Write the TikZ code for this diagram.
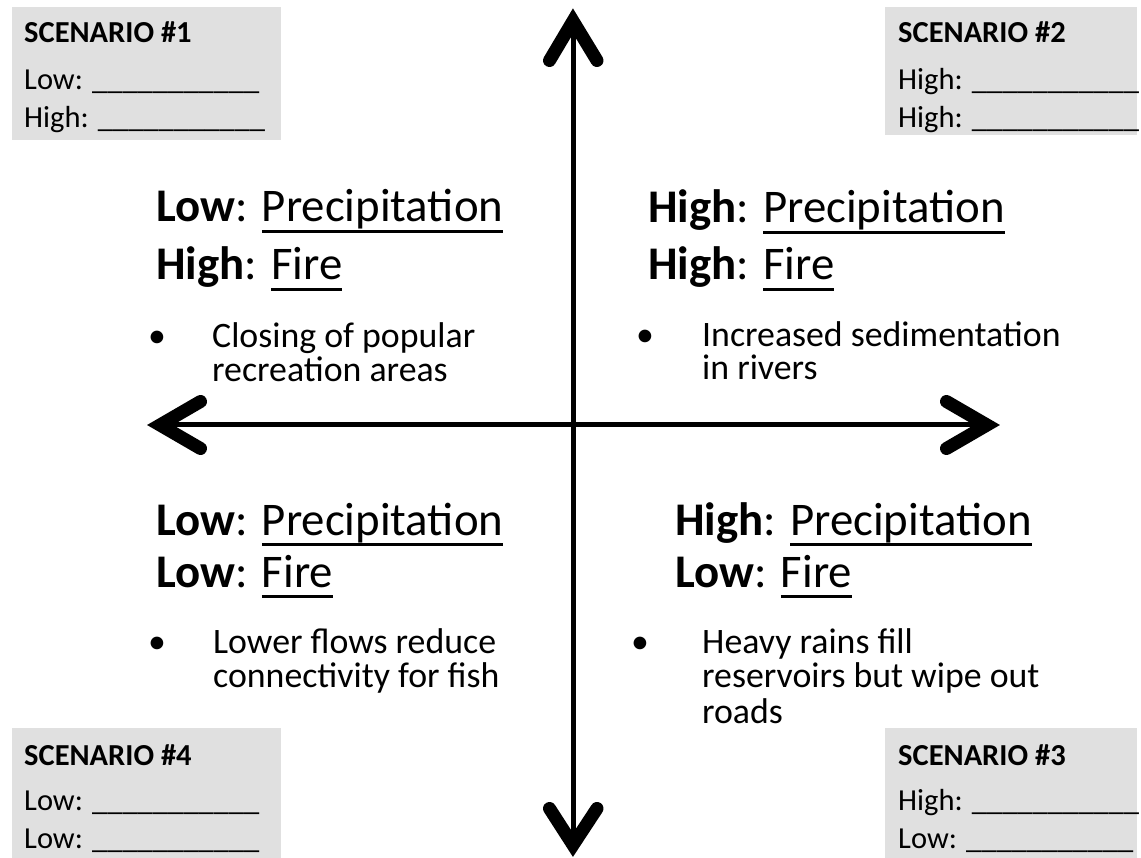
\documentclass[tikz,border=0pt]{standalone}
\usepackage{fontspec}
\setmainfont{Carlito}
\definecolor{boxgray}{RGB}{224,224,224}
% underlined word with a rule set just below the baseline
\newcommand\ulword[1]{\setbox0=\hbox{#1}\rlap{\rule[-11pt]{\wd0}{2.6pt}}\box0}
\newcommand\blank{\_\_\_\_\_\_\_\_\_\_\_}
\begin{document}
\begin{tikzpicture}[x=1pt,y=-1pt,
  scenbox/.style={fill=boxgray, draw=none, anchor=north west, inner sep=0pt},
  scenhead/.style={anchor=base west, inner sep=0pt, font=\fontsize{30.5}{36}\selectfont\bfseries},
  scenline/.style={anchor=base west, inner sep=0pt, font=\fontsize{30.5}{36}\selectfont},
  heading/.style={anchor=base west, inner sep=0pt, font=\fontsize{46.8}{58}\selectfont},
  bulletsym/.style={anchor=base, inner sep=0pt, font=\fontsize{35.8}{40}\selectfont},
  bullettext/.style={anchor=base west, inner sep=0pt, font=\fontsize{35.8}{40}\selectfont},
  shaft/.style={line width=5pt},
  chevron/.style={line width=13pt, line cap=round, line join=miter, miter limit=10}]
\useasboundingbox (0,0) rectangle (1141,858);

% scenario boxes
\node[scenbox, minimum width=269pt, minimum height=133pt] (box1) at (12,7) {};
\node[scenbox, minimum width=252pt, minimum height=128pt] (box2) at (885,7) {};
\node[scenbox, minimum width=269pt, minimum height=130pt] (box4) at (12,728) {};
\node[scenbox, minimum width=252pt, minimum height=130pt] (box3) at (885,728) {};

\node[scenhead] (s1a) at (24,43) {SCENARIO \#1};
\node[scenline] (s1b) at (24,90) {Low: \blank};
\node[scenline] (s1c) at (24,128) {High: \blank};

\node[scenhead] (s2a) at (898,43) {SCENARIO \#2};
\node[scenline] (s2b) at (898,90) {High: \blank};
\node[scenline] (s2c) at (898,128) {High: \blank};

\node[scenhead] (s4a) at (24,765) {SCENARIO \#4};
\node[scenline] (s4b) at (24,810) {Low: \blank};
\node[scenline] (s4c) at (24,848) {Low: \blank};

\node[scenhead] (s3a) at (898,765) {SCENARIO \#3};
\node[scenline] (s3b) at (898,810) {High: \blank};
\node[scenline] (s3c) at (898,848) {Low: \blank};

% axes
\coordinate (ntip) at (573,21);
\coordinate (stip) at (573,845);
\coordinate (wtip) at (160,425);
\coordinate (etip) at (987,425);
\coordinate (nl) at (549.5,60.5);
\coordinate (nr) at (597,60.5);
\coordinate (sl) at (549.5,808.5);
\coordinate (sr) at (597,808.5);
\coordinate (wu) at (200.5,401.5);
\coordinate (wd) at (200.5,448.5);
\coordinate (eu) at (946.5,401.5);
\coordinate (ed) at (946.5,448.5);
\draw[shaft] (ntip) -- (stip);
\draw[shaft] (wtip) -- (etip);
\draw[chevron] (nl) -- (ntip) -- (nr);
\draw[chevron] (sl) -- (stip) -- (sr);
\draw[chevron] (wu) -- (wtip) -- (wd);
\draw[chevron] (eu) -- (etip) -- (ed);

% upper left quadrant
\node[heading] (tl1) at (156,222) {\textbf{Low}: \ulword{Precipitation}};
\node[heading] (tl2) at (156,280) {\textbf{High}: \ulword{Fire}};
\node[bulletsym] (tlb) at (157,348) {•};
\node[bullettext] (tlt1) at (212,348) {Closing of popular};
\node[bullettext] (tlt2) at (212,382) {recreation areas};

% upper right quadrant
\node[heading] (tr1) at (648,223) {\textbf{High}: \ulword{Precipitation}};
\node[heading] (tr2) at (648,280) {\textbf{High}: \ulword{Fire}};
\node[bulletsym] (trb) at (645,347) {•};
\node[bullettext] (trt1) at (702,347) {Increased sedimentation};
\node[bullettext] (trt2) at (702,380) {in rivers};

% lower right quadrant
\node[heading] (br1) at (675,535) {\textbf{High}: \ulword{Precipitation}};
\node[heading] (br2) at (675,587) {\textbf{Low}: \ulword{Fire}};
\node[bulletsym] (brb) at (640,653) {•};
\node[bullettext] (brt1) at (702,653) {Heavy rains fill};
\node[bullettext] (brt2) at (702,687) {reservoirs but wipe out};
\node[bullettext] (brt3) at (702,723) {roads};

% lower left quadrant
\node[heading] (bl1) at (156,535) {\textbf{Low}: \ulword{Precipitation}};
\node[heading] (bl2) at (156,587) {\textbf{Low}: \ulword{Fire}};
\node[bulletsym] (blb) at (157,653) {•};
\node[bullettext] (blt1) at (213,653) {Lower flows reduce};
\node[bullettext] (blt2) at (213,687) {connectivity for fish};
\end{tikzpicture}
\end{document}
